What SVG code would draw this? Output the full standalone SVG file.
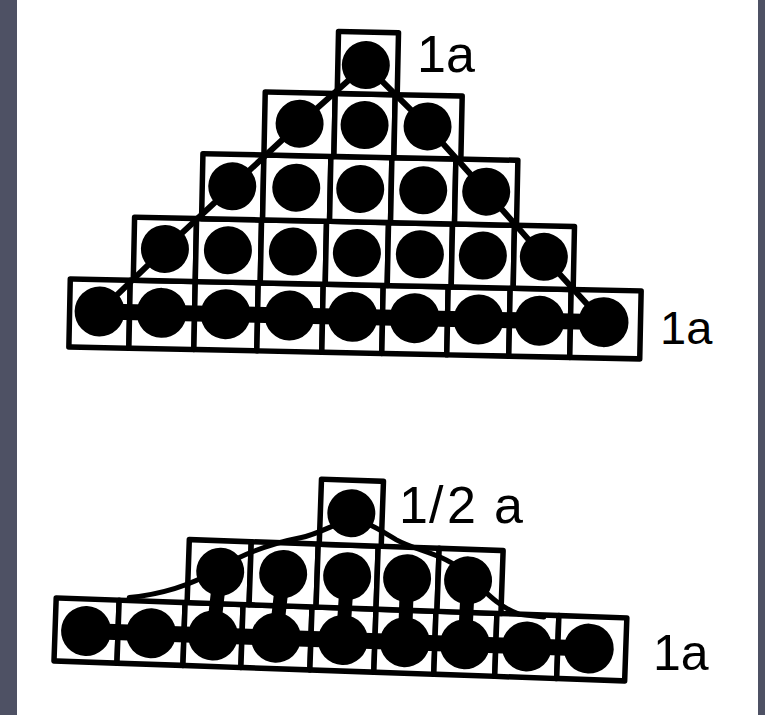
<svg xmlns="http://www.w3.org/2000/svg" width="765" height="715" viewBox="0 0 765 715">
<style>
.cell{fill:#fff;stroke:#000;stroke-width:5.5;stroke-linejoin:round}
.atom{fill:#000}
.bond{fill:none;stroke:#000;stroke-width:6;stroke-linecap:round;stroke-linejoin:round}
.band{fill:none;stroke:#000;stroke-width:16;stroke-linecap:round}
.lbl{font-family:"Liberation Sans",Arial,sans-serif;fill:#000}
</style>
<rect x="0" y="0" width="765" height="715" fill="#4e5164"/>
<rect x="17" y="0" width="741" height="715" fill="#fff"/>

<!-- Upper figure: 1a over 1a -->
<g id="upper" transform="rotate(1.2 360 200)">
<g id="u5">
<rect class="cell" x="72" y="285" width="60" height="68"/><rect class="cell" x="132" y="285" width="65" height="68"/><rect class="cell" x="197" y="285" width="63" height="68"/><rect class="cell" x="260" y="285" width="65" height="68"/><rect class="cell" x="325" y="285" width="60" height="68"/><rect class="cell" x="385" y="285" width="65" height="68"/><rect class="cell" x="450" y="285" width="62" height="68"/><rect class="cell" x="512" y="285" width="61" height="68"/><rect class="cell" x="573" y="285" width="70" height="68"/>
</g>
<g id="u4">
<rect class="cell" x="135" y="222" width="62" height="63"/><rect class="cell" x="197" y="222" width="65" height="63"/><rect class="cell" x="262" y="222" width="65" height="63"/><rect class="cell" x="327" y="222" width="62" height="63"/><rect class="cell" x="389" y="222" width="64" height="63"/><rect class="cell" x="453" y="222" width="62" height="63"/><rect class="cell" x="515" y="222" width="60" height="63"/>
</g>
<g id="u3">
<rect class="cell" x="202" y="157" width="61" height="65"/><rect class="cell" x="263" y="157" width="67" height="65"/><rect class="cell" x="330" y="157" width="61" height="65"/><rect class="cell" x="391" y="157" width="64" height="65"/><rect class="cell" x="455" y="157" width="62" height="65"/>
</g>
<g id="u2">
<rect class="cell" x="263" y="94" width="70" height="63"/><rect class="cell" x="333" y="94" width="60" height="63"/><rect class="cell" x="393" y="94" width="67" height="63"/>
</g>
<g id="u1">
<rect class="cell" x="335" y="32" width="60" height="62"/>
</g>
<g id="u-atoms">
<circle class="atom" cx="363" cy="65" r="24"/>
<circle class="atom" cx="298" cy="125" r="24"/><circle class="atom" cx="363" cy="125" r="24"/><circle class="atom" cx="426" cy="125" r="24"/>
<circle class="atom" cx="232" cy="189" r="24"/><circle class="atom" cx="296" cy="189" r="24"/><circle class="atom" cx="360" cy="189" r="24"/><circle class="atom" cx="423" cy="189" r="24"/><circle class="atom" cx="486" cy="189" r="24"/>
<circle class="atom" cx="166" cy="253" r="24"/><circle class="atom" cx="229" cy="253" r="24"/><circle class="atom" cx="294" cy="253" r="24"/><circle class="atom" cx="358" cy="253" r="24"/><circle class="atom" cx="421" cy="253" r="24"/><circle class="atom" cx="484" cy="253" r="24"/><circle class="atom" cx="545" cy="253" r="24"/>
<circle class="atom" cx="102" cy="317" r="25"/><circle class="atom" cx="164" cy="317" r="25"/><circle class="atom" cx="228" cy="317" r="25"/><circle class="atom" cx="292" cy="317" r="25"/><circle class="atom" cx="355" cy="317" r="25"/><circle class="atom" cx="417" cy="317" r="25"/><circle class="atom" cx="481" cy="317" r="25"/><circle class="atom" cx="542" cy="317" r="25"/><circle class="atom" cx="606" cy="317" r="25"/>
</g>
</g>

<!-- Lower figure: 1/2 a over 1a -->
<g id="lower" transform="rotate(2 343 580)">
<g id="l3">
<rect class="cell" x="57" y="608" width="63" height="63"/><rect class="cell" x="120" y="608" width="66" height="63"/><rect class="cell" x="186" y="608" width="58" height="63"/><rect class="cell" x="244" y="608" width="69" height="63"/><rect class="cell" x="313" y="608" width="64" height="63"/><rect class="cell" x="377" y="608" width="60" height="63"/><rect class="cell" x="437" y="608" width="61" height="63"/><rect class="cell" x="498" y="608" width="62" height="63"/><rect class="cell" x="560" y="608" width="68" height="63"/>
</g>
<g id="l2">
<rect class="cell" x="188" y="545" width="62" height="63"/><rect class="cell" x="250" y="545" width="67" height="63"/><rect class="cell" x="317" y="545" width="60" height="63"/><rect class="cell" x="377" y="545" width="61" height="63"/><rect class="cell" x="438" y="545" width="64" height="63"/>
</g>
<g id="l1">
<rect class="cell" x="318" y="480" width="62" height="65"/>
</g>
<g id="l-atoms">
<circle class="atom" cx="349" cy="513" r="24"/>
<circle class="atom" cx="220" cy="576" r="24"/><circle class="atom" cx="283" cy="576" r="24"/><circle class="atom" cx="347" cy="576" r="24"/><circle class="atom" cx="407" cy="576" r="24"/><circle class="atom" cx="468" cy="576" r="24"/>
<circle class="atom" cx="88" cy="640" r="25"/><circle class="atom" cx="153" cy="640" r="25"/><circle class="atom" cx="215" cy="640" r="25"/><circle class="atom" cx="278" cy="640" r="25"/><circle class="atom" cx="345" cy="640" r="25"/><circle class="atom" cx="407" cy="640" r="25"/><circle class="atom" cx="467" cy="640" r="25"/><circle class="atom" cx="529" cy="640" r="25"/><circle class="atom" cx="591" cy="640" r="25"/>
</g>
</g>

<g id="connectors">
<g transform="rotate(1.2 360 200)">
<polyline class="bond" points="102,317 166,253 232,189 298,125 363,65 426,125 486,189 545,253 606,317"/>
<line class="band" x1="102" y1="317" x2="606" y2="317"/>
</g>
<g transform="rotate(2 343 580)">
<line class="band" x1="88" y1="640" x2="591" y2="640"/>
<path class="bond" d="M220 576 L215 640 M283 576 L278 640 M347 576 L345 640 M407 576 L407 640 M468 576 L467 640" style="stroke-width:14"/>
<path class="bond" style="stroke-width:5" d="M130 605 C165 600 195 588 215 575 C240 558 270 546 300 539 C320 534 335 522 349 520 C365 520 380 530 395 538 C415 548 440 550 460 565 C480 580 495 600 520 608 L545 610"/>
</g>
</g>

<g id="labels">
<text class="lbl" x="417" y="72" font-size="52">1a</text>
<text class="lbl" x="660" y="344" font-size="47">1a</text>
<text class="lbl" x="399 429 447 480 494" y="523" font-size="52">1/2 a</text>
<text class="lbl" x="653" y="670" font-size="50">1a</text>
</g>
</svg>
